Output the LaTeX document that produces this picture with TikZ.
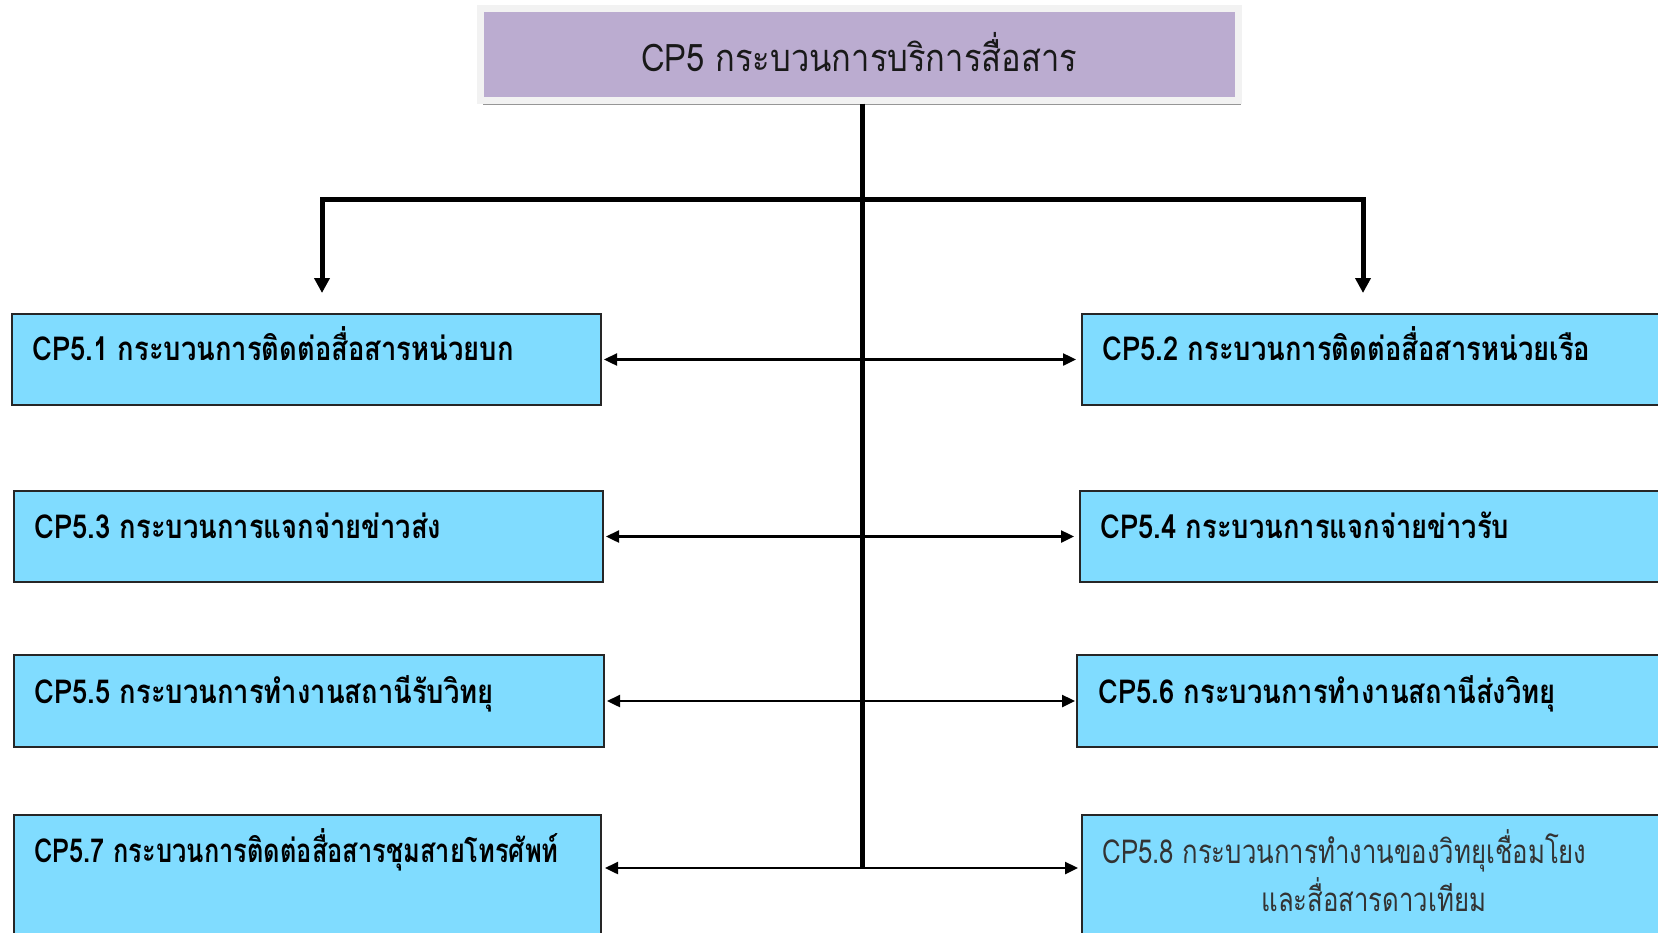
\documentclass[tikz,border=0pt]{standalone}
\usepackage{fontspec}
\newfontfamily\thai[Script=Thai, FakeStretch=0.86]{Loma}
\newfontfamily\thail[Script=Thai, FakeStretch=0.78]{Loma}
\newfontfamily\thaib[Script=Thai, FakeStretch=0.83]{Loma Bold}
\newfontfamily\thaic[Script=Thai, FakeStretch=0.77]{Loma Bold}
\usetikzlibrary{arrows.meta,shadows,calc}
\definecolor{boxcyan}{RGB}{128,220,255}
\definecolor{titlepurple}{RGB}{187,172,208}
\definecolor{framegray}{RGB}{242,242,242}
\definecolor{shadowgray}{RGB}{150,150,150}
\begin{document}
\begin{tikzpicture}[x=0.5pt,y=-0.5pt,
  titlebox/.style={fill=titlepurple, draw=framegray, line width=3.5pt,
    minimum width=379pt, minimum height=46pt, inner sep=0pt,
    drop shadow={shadow xshift=1.5pt, shadow yshift=-2.5pt, fill=shadowgray, opacity=1},
    font=\thai\fontsize{19}{22}\selectfont, text=black!90},
  cpbox/.style={fill=boxcyan, draw=black!85, line width=1pt, anchor=north west,
    minimum width=294.5pt, minimum height=45.5pt, inner sep=0pt},
  cplabel/.style={anchor=base west, inner sep=0pt, font=\thaib\fontsize{16.5}{20}\selectfont},
  cplight/.style={anchor=base west, inner sep=0pt, align=left, text=black!80,
    font=\thail\fontsize{16.5}{23.75}\selectfont},
  bus/.style={line width=2.5pt, draw=black, line join=miter},
  busarrow/.style={bus, {Triangle[width=7.5pt,length=7.5pt]}-{Triangle[width=7.5pt,length=7.5pt]}},
  link/.style={line width=1.2pt, draw=black,
    {Triangle[width=6pt,length=6.5pt]}-{Triangle[width=6pt,length=6.5pt]}}
]
\useasboundingbox (0,0) rectangle (1658,932);
\clip (0,0) rectangle (1658,932);

% title
\node[titlebox] (title) at (859,54) {\raisebox{2.5pt}{CP5 กระบวนการบริการสื่อสาร}};

% boxes
\node[cpbox] (b1) at (11,313) {};
\node[cpbox, minimum width=400pt] (b2) at (1081,313) {};
\node[cpbox] (b3) at (13,490) {};
\node[cpbox, minimum width=400pt] (b4) at (1079,490) {};
\node[cpbox, minimum width=295pt, minimum height=46pt] (b5) at (13,654) {};
\node[cpbox, minimum width=400pt, minimum height=46pt] (b6) at (1076,654) {};
\node[cpbox, minimum width=293.5pt, minimum height=80pt] (b7) at (13,814) {};
\node[cpbox, minimum width=400pt, minimum height=80pt] (b8) at (1081,814) {};

% labels
\node[cplabel] (t1) at (32,360) {CP5.1 กระบวนการติดต่อสื่อสารหน่วยบก};
\node[cplabel] (t2) at (1102,360) {CP5.2 กระบวนการติดต่อสื่อสารหน่วยเรือ};
\node[cplabel] (t3) at (34,538) {CP5.3 กระบวนการแจกจ่ายข่าวส่ง};
\node[cplabel] (t4) at (1100,538) {CP5.4 กระบวนการแจกจ่ายข่าวรับ};
\node[cplabel] (t5) at (34,703) {CP5.5 กระบวนการทำงานสถานีรับวิทยุ};
\node[cplabel] (t6) at (1098,703) {CP5.6 กระบวนการทำงานสถานีส่งวิทยุ};
\node[cplabel, font=\thaic\fontsize{16.5}{20}\selectfont] (t7) at (34,862) {CP5.7 กระบวนการติดต่อสื่อสารชุมสายโทรศัพท์};
\node[cplight] (t8) at (1102,911) {CP5.8 กระบวนการทำงานของวิทยุเชื่อมโยง\\\hspace*{79.5pt}และสื่อสารดาวเทียม};

% trunk
\coordinate (hl) at (322,199);
\coordinate (hr) at (1363,199);
\coordinate (al) at (322,293);
\coordinate (ar) at (1363,293);
\coordinate (trunkend) at (title.south |- 0,868);
\draw[bus] ([xshift=1.5pt]title.south) -- ([xshift=1.5pt]trunkend);
\draw[busarrow] (al) -- (hl) -- (hr) -- (ar);

% links
\draw[link] ([xshift=1pt]b1.east) -- ([xshift=-2.5pt]b2.west |- b1.east);
\draw[link] ([xshift=1pt]b3.east) -- ([xshift=-2.5pt]b4.west |- b3.east);
\draw[link] ([xshift=1pt]b5.east) -- ([xshift=-0.5pt]b6.west |- b5.east);
\draw[link] ([shift={(3,54)}]b7.north east) -- ([shift={(-3,54)}]b8.north west);
\end{tikzpicture}
\end{document}
